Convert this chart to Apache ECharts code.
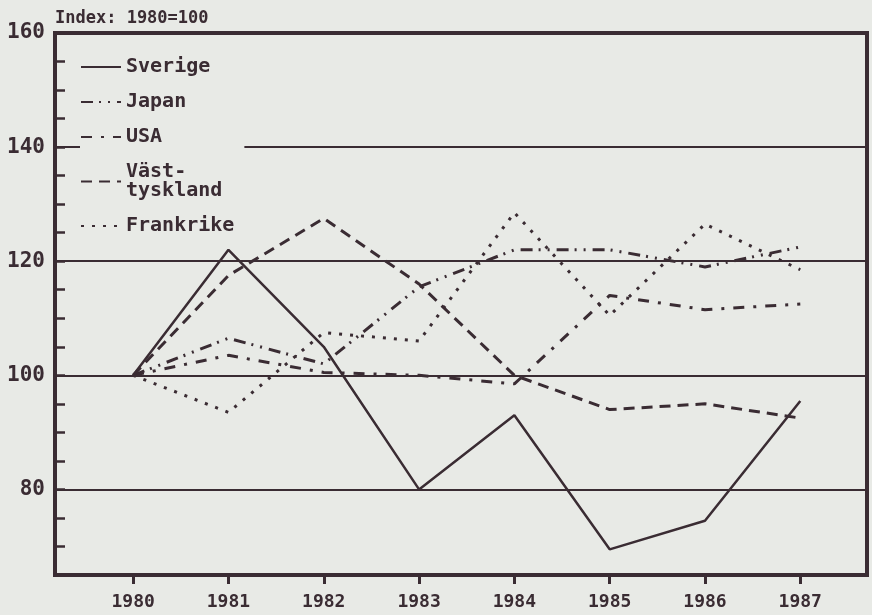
<!DOCTYPE html>
<html>
<head>
<meta charset="utf-8">
<script src="https://cdn.jsdelivr.net/npm/echarts@6/dist/echarts.min.js"></script>
<style>
  html, body { margin: 0; padding: 0; background: #e8eae6; }
  #main { width: 872px; height: 615px; }
</style>
</head>
<body>
<div id="main"></div>
<script>
// Index: 1980=100
var years = [1980, 1981, 1982, 1983, 1984, 1985, 1986, 1987];
var sverige = [100, 122, 105, 80, 93, 69.5, 74.5, 95.5];
var japan = [100, 106.5, 102, 115.5, 122, 122, 119, 122.5];
var usa = [100, 103.5, 100.5, 100, 98.5, 114, 111.5, 112.5];
var vasttyskland = [100, 117.5, 127.5, 116, 100, 94, 95, 92.5];
var frankrike = [100, 93.5, 107.5, 106, 128.5, 110.5, 126.5, 118.5];
var yLabels = [80, 100, 120, 140, 160];
var gridValues = [80, 100, 120, 140];

var ink = '#3a2c33';
var font = 'DejaVu Sans Mono';

function pairs(vals) {
  return years.map(function (y, i) { return [y, vals[i]]; });
}

function line(name, vals, type, width) {
  return {
    name: name,
    type: 'line',
    data: pairs(vals),
    symbol: 'none',
    silent: true,
    lineStyle: { color: ink, width: width, type: type, cap: 'butt' },
    itemStyle: { color: ink }
  };
}

var series = [
  line('Sverige', sverige, 'solid', 2.5),
  line('Japan', japan, [12, 6, 2, 7, 2, 7], 3),
  line('USA', usa, [11, 9, 3, 9], 3),
  line('Västtyskland', vasttyskland, [11, 7], 3),
  line('Frankrike', frankrike, [3, 8], 3)
];
series[0].markLine = {
  silent: true,
  symbol: 'none',
  label: { show: false },
  lineStyle: { color: ink, width: 2, type: 'solid' },
  data: gridValues.map(function (v) { return { yAxis: v }; })
};

var chart = echarts.init(document.getElementById('main'));
chart.setOption({
  backgroundColor: '#e8eae6',
  animation: false,
  title: {
    text: 'Index: 1980=100',
    left: 50,
    top: 5,
    textStyle: { fontFamily: font, fontWeight: 'bold', fontSize: 17, color: ink }
  },
  legend: {
    orient: 'vertical',
    left: 80,
    top: 57,
    padding: [0, 10, 0, 0],
    backgroundColor: '#e8eae6',
    itemWidth: 40,
    itemHeight: 14,
    itemGap: 15,
    z: 10,
    selectedMode: false,
    itemStyle: { opacity: 0 },
    formatter: function (name) {
      return name === 'Västtyskland' ? 'Väst-\ntyskland' : name;
    },
    textStyle: {
      fontFamily: font, fontWeight: 'bold', fontSize: 20,
      lineHeight: 19, color: ink
    },
    data: ['Sverige', 'Japan', 'USA', 'Västtyskland', 'Frankrike']
  },
  grid: {
    left: 55, right: 5, top: 33, bottom: 40,
    show: true, borderColor: ink, borderWidth: 4
  },
  xAxis: {
    type: 'value',
    min: 1979.18,
    max: 1987.7,
    axisLine: { show: true, lineStyle: { color: ink, width: 4 } },
    axisTick: {
      show: true, inside: false, length: 9, customValues: years,
      lineStyle: { color: ink, width: 3 }
    },
    axisLabel: {
      customValues: years, margin: 18,
      formatter: function (v) { return String(v); },
      fontFamily: font, fontWeight: 'bold', fontSize: 18, color: ink
    },
    splitLine: { show: false }
  },
  yAxis: {
    type: 'value',
    min: 65,
    max: 160,
    interval: 5,
    axisLine: { show: true, lineStyle: { color: ink, width: 4 } },
    axisTick: {
      show: true, inside: true, length: 10,
      lineStyle: { color: ink, width: 2.5 }
    },
    axisLabel: {
      customValues: yLabels, margin: 10,
      fontFamily: font, fontWeight: 'bold', fontSize: 21, color: ink
    },
    splitLine: { show: false }
  },
  series: series
});
</script>
</body>
</html>
